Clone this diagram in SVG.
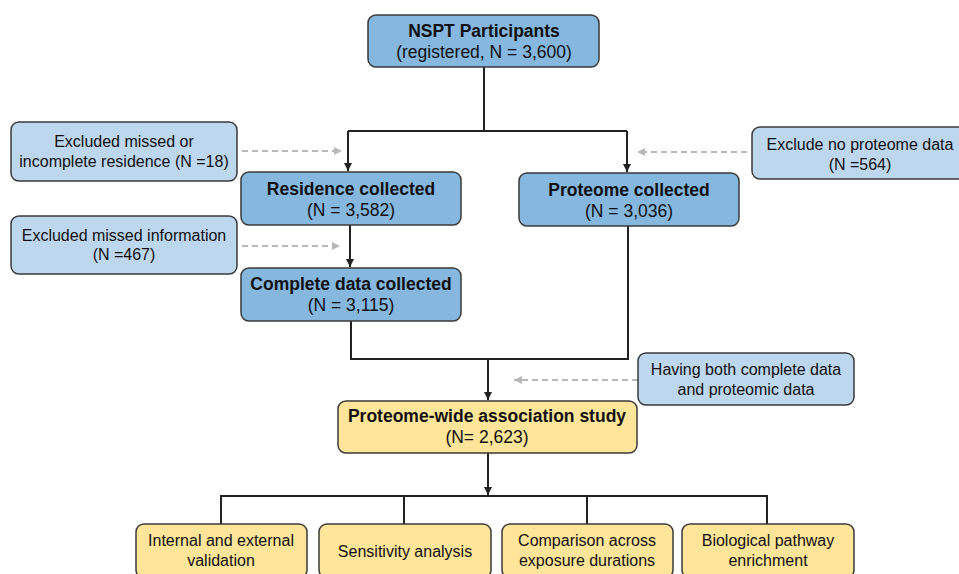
<svg xmlns="http://www.w3.org/2000/svg" width="959" height="574" viewBox="0 0 959 574">
<style>
text{font-family:"Liberation Sans",Arial,sans-serif;fill:#111;text-anchor:middle}
.b{font-weight:bold;font-size:17.5px}
.r{font-size:17.5px}
.s{font-size:16px}
.main{fill:#85b7df;stroke:#3a3a3a;stroke-width:1.5}
.light{fill:#bdd7ee;stroke:#3a3a3a;stroke-width:1.5}
.yel{fill:#fee59a;stroke:#3a3a3a;stroke-width:1.5}
.ln{fill:none;stroke:#222;stroke-width:2}
.ds{fill:none;stroke:#b8b8b8;stroke-width:2;stroke-dasharray:6 4}
</style>
<defs>
<marker id="ah" viewBox="0 0 10 10" refX="10" refY="5" markerWidth="4" markerHeight="4" orient="auto" markerUnits="strokeWidth">
<path d="M0,0 L10,5 L0,10 z" fill="#222"/>
</marker>
<marker id="ag" viewBox="0 0 10 10" refX="10" refY="5" markerWidth="4" markerHeight="4" orient="auto" markerUnits="strokeWidth">
<path d="M0,0 L10,5 L0,10 z" fill="#b8b8b8"/>
</marker>
</defs>
<rect width="959" height="574" fill="#fff"/>
<g id="connectors">
<path class="ln" d="M484,67 V131"/>
<path class="ln" d="M348,131 H627"/>
<path class="ln" d="M348,131 V171" marker-end="url(#ah)"/>
<path class="ln" d="M627,131 V172" marker-end="url(#ah)"/>
<path class="ln" d="M350,225 V267" marker-end="url(#ah)"/>
<path class="ln" d="M351,321 V359 H628 V226"/>
<path class="ln" d="M488,359 V400" marker-end="url(#ah)"/>
<path class="ln" d="M488,453 V495" marker-end="url(#ah)"/>
<path class="ln" d="M221,524 V496 H767 V524"/>
<path class="ln" d="M404,496 V524"/>
<path class="ln" d="M587,496 V524"/>
<path class="ds" d="M242,151 H342" marker-end="url(#ag)"/>
<path class="ds" d="M242,246 H340" marker-end="url(#ag)"/>
<path class="ds" d="M747,152 H637" marker-end="url(#ag)"/>
<path class="ds" d="M638,380 H514" marker-end="url(#ag)"/>
</g>
<g id="nspt">
<rect class="main" x="368" y="15" width="231" height="52" rx="8"/>
<text class="b" x="484" y="37">NSPT Participants</text>
<text class="r" x="484" y="58">(registered, N = 3,600)</text>
</g>
<g id="excl-residence">
<rect class="light" x="11" y="122" width="226" height="59" rx="8"/>
<text class="s" x="124" y="147">Excluded missed or</text>
<text class="s" x="124" y="167">incomplete residence (N =18)</text>
</g>
<g id="residence">
<rect class="main" x="241" y="172" width="220" height="53" rx="8"/>
<text class="b" x="351" y="195">Residence collected</text>
<text class="r" x="351" y="216">(N = 3,582)</text>
</g>
<g id="excl-info">
<rect class="light" x="11" y="216" width="226" height="58" rx="8"/>
<text class="s" x="124" y="241">Excluded missed information</text>
<text class="s" x="124" y="260">(N =467)</text>
</g>
<g id="complete">
<rect class="main" x="241" y="268" width="220" height="53" rx="8"/>
<text class="b" x="351" y="290">Complete data collected</text>
<text class="r" x="351" y="311">(N = 3,115)</text>
</g>
<g id="proteome">
<rect class="main" x="519" y="173" width="220" height="53" rx="8"/>
<text class="b" x="629" y="196">Proteome collected</text>
<text class="r" x="629" y="217">(N = 3,036)</text>
</g>
<g id="excl-proteome">
<rect class="light" x="752" y="127" width="216" height="52" rx="8"/>
<text class="s" x="860" y="150">Exclude no proteome data</text>
<text class="s" x="860" y="170">(N =564)</text>
</g>
<g id="having-both">
<rect class="light" x="638" y="353" width="216" height="52" rx="8"/>
<text class="s" x="746" y="375">Having both complete data</text>
<text class="s" x="746" y="395">and proteomic data</text>
</g>
<g id="pwas">
<rect class="yel" x="338" y="401" width="299" height="52" rx="8"/>
<text class="b" x="487" y="422">Proteome-wide association study</text>
<text class="r" x="487" y="443">(N= 2,623)</text>
</g>
<g id="validation">
<rect class="yel" x="136" y="524" width="171" height="54" rx="8"/>
<text class="s" x="221" y="546">Internal and external</text>
<text class="s" x="221" y="566">validation</text>
</g>
<g id="sensitivity">
<rect class="yel" x="319" y="524" width="172" height="54" rx="8"/>
<text class="s" x="405" y="557">Sensitivity analysis</text>
</g>
<g id="comparison">
<rect class="yel" x="502" y="524" width="171" height="54" rx="8"/>
<text class="s" x="587" y="546">Comparison across</text>
<text class="s" x="587" y="566">exposure durations</text>
</g>
<g id="pathway">
<rect class="yel" x="682" y="524" width="172" height="54" rx="8"/>
<text class="s" x="768" y="546">Biological pathway</text>
<text class="s" x="768" y="566">enrichment</text>
</g>
</svg>
